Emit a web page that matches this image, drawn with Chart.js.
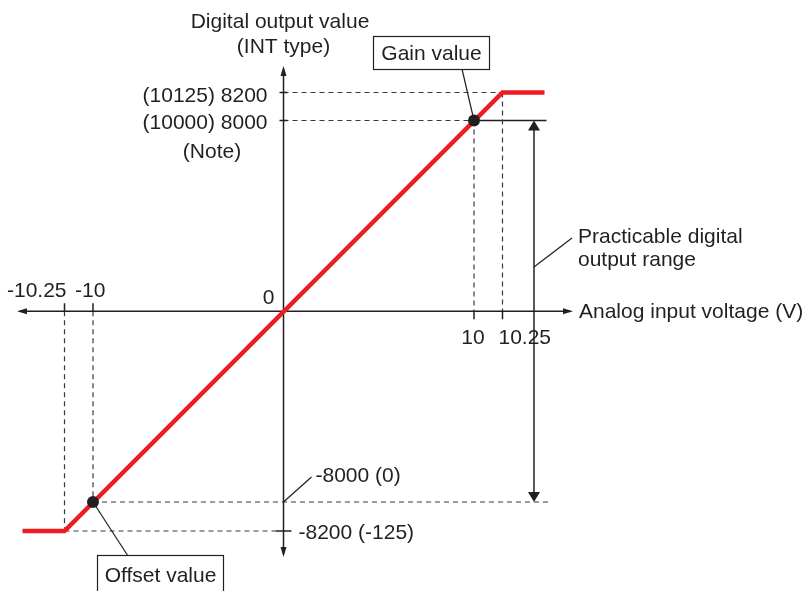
<!DOCTYPE html>
<html>
<head>
<meta charset="utf-8">
<title>Digital output characteristic</title>
<script src="https://cdn.jsdelivr.net/npm/chart.js@4.4.0/dist/chart.umd.min.js"></script>
<style>
  html, body { margin: 0; padding: 0; background: #ffffff; }
  #wrap { width: 811px; height: 591px; position: relative; }
</style>
</head>
<body>
<div id="wrap"><canvas id="grafico"></canvas></div>
<script>
/* ============================================================
   DATA
   ============================================================ */
const voltTicks = [-10.25, -10, 10, 10.25];
const voltLabels = ['-10.25', '-10', '10', '10.25'];
const digitalTicks = [8200, 8000, -8000, -8200];
const digitalLabels = ['(10125) 8200', '(10000) 8000', '-8000 (0)', '-8200 (-125)'];

// red characteristic line (input V -> digital value)
const lineVolts = [-11, -10.25, 10.25, 11];
const lineDigital = [-8200, -8200, 8200, 8200];

// marked points
const markVolts = [10, -10];
const markDigital = [8000, -8000];
const markNames = ['Gain value', 'Offset value'];

const axisTitleX = 'Analog input voltage (V)';
const axisTitleY = ['Digital output value', '(INT type)'];
const noteLabel = '(Note)';
const rangeLabel = ['Practicable digital', 'output range'];

/* ============================================================
   SCHEMATIC SCALE (the drawing is not to scale near the limits)
   ============================================================ */
const xKnots = { real: [-11, -10.25, -10, 10, 10.25, 11], draw: [-261, -219, -190.5, 190.5, 219, 261] };
const yKnots = { real: [-8200, -8000, 8000, 8200], draw: [-219, -190, 191.5, 219.5] };

function piecewise(k, v) {
  let i = 0;
  while (i < k.real.length - 2 && v > k.real[i + 1]) i++;
  const t = (v - k.real[i]) / (k.real[i + 1] - k.real[i]);
  return k.draw[i] + t * (k.draw[i + 1] - k.draw[i]);
}

class WarpScale extends Chart.LinearScale {
  getPixelForValue(value) {
    if (value === null || value === undefined) return NaN;
    const k = this.axis === 'x' ? xKnots : yKnots;
    return super.getPixelForValue(piecewise(k, value));
  }
}
WarpScale.id = 'warp';
WarpScale.defaults = Chart.LinearScale.defaults;
Chart.register(WarpScale);

/* ============================================================
   DRAW HELPERS
   ============================================================ */
const INK = '#231f20';
const DASH = '#3a3a3a';
const FONT = '21px "Liberation Sans", Arial, Helvetica, sans-serif';

function line(ctx, x1, y1, x2, y2, color, width, dash) {
  ctx.save();
  ctx.strokeStyle = color;
  ctx.lineWidth = width;
  ctx.setLineDash(dash || []);
  ctx.beginPath();
  ctx.moveTo(x1, y1);
  ctx.lineTo(x2, y2);
  ctx.stroke();
  ctx.restore();
}

function arrowHead(ctx, x, y, angle, len, half) {
  ctx.save();
  ctx.translate(x, y);
  ctx.rotate(angle);
  ctx.fillStyle = INK;
  ctx.beginPath();
  ctx.moveTo(0, 0);
  ctx.lineTo(-len, -half);
  ctx.lineTo(-len, half);
  ctx.closePath();
  ctx.fill();
  ctx.restore();
}

function text(ctx, str, x, y, align) {
  ctx.save();
  ctx.font = FONT;
  ctx.fillStyle = INK;
  ctx.textAlign = align || 'left';
  ctx.textBaseline = 'alphabetic';
  ctx.fillText(str, x, y);
  ctx.restore();
}

function box(ctx, str, x1, y1, x2, y2, baseline) {
  ctx.save();
  ctx.fillStyle = '#ffffff';
  ctx.fillRect(x1, y1, x2 - x1, y2 - y1);
  ctx.strokeStyle = INK;
  ctx.lineWidth = 1.2;
  ctx.strokeRect(x1, y1, x2 - x1, y2 - y1);
  ctx.restore();
  text(ctx, str, (x1 + x2) / 2, baseline, 'center');
}

/* ============================================================
   DIAGRAM PLUGIN (axes, guides, labels)
   ============================================================ */
const diagrama = {
  id: 'diagrama',
  beforeDatasetsDraw(chart) {
    const ctx = chart.ctx;
    const sx = chart.scales.x, sy = chart.scales.y;
    const X0 = sx.getPixelForValue(0), Y0 = sy.getPixelForValue(0);
    const px = v => sx.getPixelForValue(v);
    const py = v => sy.getPixelForValue(v);
    const d = [5, 4];

    // guides upper right
    line(ctx, X0, py(8200), px(10.25), py(8200), DASH, 1.2, d);
    line(ctx, X0, py(8000), px(10), py(8000), DASH, 1.2, d);
    line(ctx, px(10), py(8000), px(10.25) + 44, py(8000), INK, 1.5);
    line(ctx, px(10), py(8000), px(10), Y0, DASH, 1.2, d);
    line(ctx, px(10.25), py(8200), px(10.25), Y0, DASH, 1.2, d);

    // guides lower left
    line(ctx, px(-10.25), Y0, px(-10.25), py(-8200), DASH, 1.2, d);
    line(ctx, px(-10), Y0, px(-10), py(-8000), DASH, 1.2, d);
    line(ctx, px(-10.25), py(-8200), X0 - 8, py(-8200), DASH, 1.2, d);
    line(ctx, px(-10), py(-8000), px(10.25) + 48, py(-8000), DASH, 1.2, d);

    // axes
    line(ctx, 20, Y0, 570, Y0, INK, 1.5);
    arrowHead(ctx, 17, Y0, Math.PI, 10, 3);
    arrowHead(ctx, 573, Y0, 0, 10, 3);
    line(ctx, X0, 69, X0, 554, INK, 1.5);
    arrowHead(ctx, X0, 66, -Math.PI / 2, 10, 3);
    arrowHead(ctx, X0, 557, Math.PI / 2, 10, 3);

    // x ticks
    line(ctx, px(-10.25), Y0 - 8, px(-10.25), Y0, INK, 1.5);
    line(ctx, px(-10), Y0 - 8, px(-10), Y0, INK, 1.5);
    line(ctx, px(10), Y0, px(10), Y0 + 8, INK, 1.5);
    line(ctx, px(10.25), Y0, px(10.25), Y0 + 8, INK, 1.5);

    // y ticks
    line(ctx, X0 - 4, py(8200), X0 + 4, py(8200), INK, 1.5);
    line(ctx, X0 - 4, py(8000), X0 + 4, py(8000), INK, 1.5);
    line(ctx, X0 - 8, py(-8200), X0 + 8, py(-8200), INK, 1.5);
    line(ctx, X0, py(-8000), X0 + 28, py(-8000) - 25, INK, 1.2);

    // x labels
    text(ctx, voltLabels[0], 7, 297, 'left');
    text(ctx, voltLabels[1], 75, 297, 'left');
    text(ctx, voltLabels[2], px(10) - 1, 344, 'center');
    text(ctx, voltLabels[3], px(10.25) - 4, 344, 'left');
    text(ctx, '0', X0 - 9, 304, 'right');
    text(ctx, axisTitleX, 579, 318, 'left');

    // y labels
    text(ctx, digitalLabels[0], X0 - 16, py(8200) + 9, 'right');
    text(ctx, digitalLabels[1], X0 - 16, py(8000) + 8, 'right');
    text(ctx, digitalLabels[2], X0 + 32, 482, 'left');
    text(ctx, digitalLabels[3], X0 + 15, py(-8200) + 8, 'left');
    text(ctx, noteLabel, 212, 158, 'center');
    text(ctx, axisTitleY[0], 280, 28, 'center');
    text(ctx, axisTitleY[1], X0, 53, 'center');

    // practicable range double arrow
    const ax = px(10.25) + 31.5;
    line(ctx, ax, py(8000) + 9, ax, py(-8000) - 9, INK, 1.5);
    arrowHead(ctx, ax, py(8000), -Math.PI / 2, 10, 6);
    arrowHead(ctx, ax, py(-8000), Math.PI / 2, 10, 6);
    line(ctx, ax, 267, 572, 238, INK, 1.2);
    text(ctx, rangeLabel[0], 578, 243, 'left');
    text(ctx, rangeLabel[1], 578, 266, 'left');

    // callout boxes
    line(ctx, 462, 69, px(markVolts[0]), py(markDigital[0]), INK, 1.2);
    line(ctx, px(markVolts[1]), py(markDigital[1]), 128, 556, INK, 1.2);
    box(ctx, markNames[0], 373.5, 36.5, 489.5, 69.5, 60);
    box(ctx, markNames[1], 97.5, 555.5, 223.5, 600, 582);
  }
};

/* ============================================================
   CHART
   ============================================================ */
const ctx = document.getElementById('grafico');
new Chart(ctx, {
  type: 'line',
  data: {
    datasets: [
      {
        data: lineVolts.map((v, i) => ({ x: v, y: lineDigital[i] })),
        borderColor: '#ed1c24',
        borderWidth: 4.5,
        pointRadius: 0,
        tension: 0,
        fill: false,
        clip: false,
        order: 2
      },
      {
        data: markVolts.map((v, i) => ({ x: v, y: markDigital[i] })),
        showLine: false,
        pointRadius: 6,
        pointBackgroundColor: INK,
        pointBorderColor: INK,
        pointBorderWidth: 0,
        clip: false,
        order: 1
      }
    ]
  },
  options: {
    responsive: true,
    maintainAspectRatio: false,
    animation: false,
    events: [],
    layout: { padding: 0, autoPadding: false },
    plugins: { legend: { display: false }, title: { display: false }, tooltip: { enabled: false } },
    scales: {
      x: { type: 'warp', min: -283.5, max: 527.5, bounds: 'data', display: false },
      y: { type: 'warp', min: -279, max: 312, bounds: 'data', display: false }
    }
  },
  plugins: [diagrama]
});
</script>
</body>
</html>
